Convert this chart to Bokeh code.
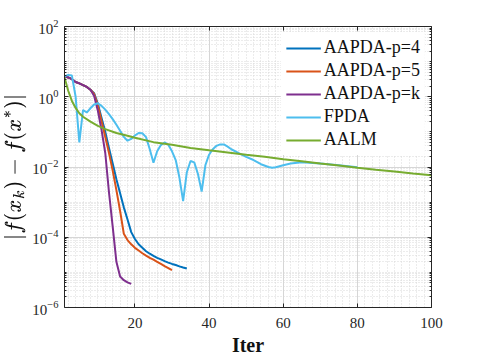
from bokeh.plotting import figure
from bokeh.models import FixedTicker, LogAxis, LinearAxis
from bokeh.embed import file_html
from bokeh.resources import INLINE

# ---------------- data ----------------
iter_p4 = list(range(1, 35))
val_p4 = [3.8, 3.55, 3.16, 2.63, 2.4, 2.14, 1.9, 1.58, 1.26, 0.63, 0.25, 0.1, 0.035,
          0.0126, 4.5e-3, 1.8e-3, 7.1e-4, 3.2e-4, 1.4e-4, 8.9e-5, 6.3e-5, 5.0e-5, 4.0e-5,
          3.4e-5, 2.95e-5, 2.6e-5, 2.35e-5, 2.1e-5, 1.9e-5, 1.74e-5, 1.62e-5, 1.48e-5,
          1.38e-5, 1.29e-5]

iter_p5 = list(range(1, 31))
val_p5 = [3.8, 3.55, 3.16, 2.63, 2.4, 2.14, 1.9, 1.58, 1.2, 0.56, 0.2, 0.071, 0.025,
          7.9e-3, 2.2e-3, 5.6e-4, 1.26e-4, 8.3e-5, 6.3e-5, 5.0e-5, 4.2e-5, 3.5e-5, 3.0e-5,
          2.6e-5, 2.3e-5, 2.0e-5, 1.74e-5, 1.51e-5, 1.32e-5, 1.15e-5]

iter_pk = list(range(1, 20))
val_pk = [3.8, 3.55, 3.16, 2.63, 2.4, 2.14, 1.9, 1.58, 1.05, 0.4, 0.112, 0.025, 1.9e-3,
          2.0e-4, 2.0e-5, 7.6e-6, 6.0e-6, 5.2e-6, 4.7e-6]

iter_fpda = list(range(1, 47)) + [48, 50, 52, 54, 56, 57, 58, 60, 62, 65, 70, 75, 80]
val_fpda = [3.8, 4.2, 4.0, 1.0, 0.05, 0.42, 0.355, 0.47, 0.6, 0.65, 0.55, 0.43, 0.32,
            0.23, 0.16, 0.107, 0.072, 0.056, 0.063, 0.079, 0.093, 0.091, 0.071, 0.032,
            0.0132, 0.028, 0.042, 0.05, 0.043, 0.028, 0.0158, 0.005, 0.00107, 0.0071,
            0.0148, 0.0135, 0.0063, 0.002, 0.0112, 0.0224, 0.032, 0.04, 0.044, 0.044,
            0.038, 0.032, 0.025, 0.0195, 0.0158, 0.012, 0.01, 0.0095, 0.0098, 0.0112,
            0.0126, 0.0137, 0.0126, 0.0112, 0.0098]

iter_aalm = [1, 2, 3, 4, 5, 6, 8, 10, 12, 15, 18, 20, 25, 30, 35, 40, 45, 50, 55, 60,
             65, 70, 75, 80, 85, 90, 95, 100]
val_aalm = [3.55, 1.48, 0.76, 0.48, 0.34, 0.27, 0.195, 0.148, 0.12, 0.093, 0.078, 0.068,
            0.051, 0.043, 0.035, 0.030, 0.026, 0.0224, 0.0195, 0.0166, 0.0145, 0.0126,
            0.011, 0.0095, 0.0083, 0.0074, 0.0065, 0.0058]

x_ticks = [20, 40, 60, 80, 100]
x_minor = [v for v in range(2, 101, 2) if v % 20 != 0]
y_ticks = [1e-6, 1e-4, 1e-2, 1e0, 1e2]
y_minor = [k * 10.0 ** e for e in range(-6, 2) for k in range(1, 10)
           if not (k == 1 and e % 2 == 0)]

FONT = "Liberation Serif"
AX = "#262626"

p = figure(x_range=(1, 100), y_range=(1e-6, 1e2), y_axis_type="log",
           frame_width=367, frame_height=281,
           min_border_left=57, min_border_right=38, min_border_top=26, min_border_bottom=44,
           output_backend="svg", toolbar_location=None)
p.outline_line_color = None

# grids
p.xgrid.ticker = FixedTicker(ticks=x_ticks, minor_ticks=x_minor)
p.ygrid.ticker = FixedTicker(ticks=y_ticks, minor_ticks=y_minor)
for g in (p.xgrid, p.ygrid):
    g.grid_line_color = "#d6d6d6"
    g.grid_line_width = 1
    g.minor_grid_line_color = "#d9d9d9"
    g.minor_grid_line_dash = "1 2"

# bottom / left axes
xa = p.xaxis[0]
xa.ticker = FixedTicker(ticks=x_ticks, minor_ticks=x_minor)
ya = p.yaxis[0]
ya.ticker = FixedTicker(ticks=y_ticks, minor_ticks=y_minor)
for a in (xa, ya):
    a.axis_line_color = AX
    a.major_tick_line_color = AX
    a.minor_tick_line_color = AX
    a.major_tick_in = 4
    a.major_tick_out = 0
    a.major_label_text_font = FONT
    a.major_label_text_font_size = "15px"
    a.major_label_text_color = AX
xa.minor_tick_in = 0
xa.minor_tick_out = 0
ya.minor_tick_in = 2
ya.minor_tick_out = 0
xa.major_label_standoff = 10
ya.major_label_standoff = 6
xa.axis_label = "Iter"
xa.axis_label_text_font = FONT
xa.axis_label_text_font_style = "bold"
xa.axis_label_text_font_size = "20px"
xa.axis_label_text_color = "#111111"
xa.axis_label_standoff = 3
ya.axis_label = r"$$|f(x_k) - f(x^*)|$$"
ya.axis_label_text_font_size = "19px"
ya.axis_label_text_color = "#111111"
ya.axis_label_standoff = 3

# top / right box axes (labels hidden)
top = LinearAxis(ticker=FixedTicker(ticks=x_ticks, minor_ticks=x_minor),
                 major_label_text_font_size="6px", major_label_text_alpha=0,
                 major_label_standoff=0,
                 axis_line_color=AX, major_tick_line_color=AX,
                 major_tick_in=4, major_tick_out=0, minor_tick_in=0, minor_tick_out=0)
right = LogAxis(ticker=FixedTicker(ticks=y_ticks, minor_ticks=y_minor),
                major_label_text_font_size="6px", major_label_text_alpha=0,
                major_label_standoff=0,
                axis_line_color=AX, major_tick_line_color=AX, minor_tick_line_color=AX,
                major_tick_in=4, major_tick_out=0, minor_tick_in=2, minor_tick_out=0)
p.add_layout(top, "above")
p.add_layout(right, "right")

LW = 2
p.line(iter_p4, val_p4, line_color="#0072BD", line_width=LW, legend_label="AAPDA-p=4")
p.line(iter_p5, val_p5, line_color="#D95319", line_width=LW, legend_label="AAPDA-p=5")
p.line(iter_pk, val_pk, line_color="#7E2F8E", line_width=LW, legend_label="AAPDA-p=k")
p.line(iter_fpda, val_fpda, line_color="#4DBEEE", line_width=LW, legend_label="FPDA")
p.line(iter_aalm, val_aalm, line_color="#77AC30", line_width=LW, legend_label="AALM")

lg = p.legend[0]
lg.location = "top_right"
lg.margin = 6
lg.padding = 5
lg.spacing = 2
lg.label_height = 20
lg.glyph_height = 20
lg.glyph_width = 35
lg.label_standoff = 3
lg.label_text_font = FONT
lg.label_text_font_size = "18px"
lg.label_text_color = "#111111"
lg.border_line_alpha = 0
lg.background_fill_color = "white"
lg.background_fill_alpha = 1

open("out.html", "w").write(file_html(p, INLINE))
